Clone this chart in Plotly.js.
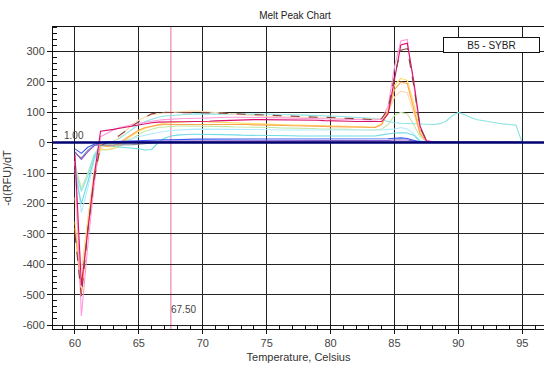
<!DOCTYPE html>
<html>
<head>
<meta charset="utf-8">
<script src="https://cdn.plot.ly/plotly-3.0.1.min.js"></script>
<style>
html,body{margin:0;padding:0;background:#fff;}
#chart{width:544px;height:367px;}
</style>
</head>
<body>
<div id="chart"></div>
<script>
// Temperatures (Celsius)
const temps = [60,60.5,61,61.5,62,62.5,63,63.5,64,64.5,
  65,65.5,66,66.5,67,67.5,68,68.5,69,69.5,
  70,70.5,71,71.5,72,72.5,73,73.5,74,74.5,
  75,75.5,76,76.5,77,77.5,78,78.5,79,79.5,
  80,80.5,81,81.5,82,82.5,83,83.5,84,84.5,
  85,85.5,86,86.5,87,87.5,88,88.5,89,89.5,
  90,90.5,91,91.5,92,92.5,93,93.5,94,94.5,95];

// -d(RFU)/dT values per well trace
const pinkVals = [-60,-570,-340,-140,20,32,42,50,56,60,
  64,68,72,74,76,78,79,80,80,81,
  82,82,83,83,84,84,84,84,84,83,
  83,83,82,82,81,81,80,80,79,79,
  78,78,77,77,76,76,75,75,78,120,
  250,335,340,200,45,8,3,2,2,2,
  2,2,2,1,1,1,1,1,1,1,1];
const crimsonVals = [-40,-470,-290,-110,38,40,44,48,52,56,
  60,63,66,68,69,69,69,69,69,70,
  70,71,72,73,74,75,75,76,76,76,
  76,76,76,76,76,75,75,74,74,73,
  73,72,72,71,70,70,69,69,70,95,
  215,322,328,205,55,6,3,2,2,1,
  1,1,1,1,1,1,1,1,1,1,1];
const darkDashVals = [-300,-505,-290,-120,-10,0,10,25,40,55,
  70,85,95,99,100,100,100,100,100,100,
  99,99,98,97,96,95,94,93,92,91,
  90,89,88,87,86,86,85,85,84,84,
  83,82,81,80,79,78,77,76,80,110,
  220,305,310,190,50,8,4,3,2,2,
  2,2,2,2,1,1,1,1,1,1,1];
const orangeVals = [-280,-505,-285,-120,-5,-12,-10,0,15,30,
  42,50,55,58,60,60,61,61,62,62,
  62,62,62,61,61,60,60,60,59,59,
  58,58,57,57,56,56,55,55,54,54,
  53,53,52,52,51,51,50,50,60,100,
  175,200,195,110,30,5,2,1,1,1,
  1,1,1,1,1,1,1,1,1,1,1];
const yellowVals = [-260,-470,-270,-110,-20,-22,-18,-5,10,25,
  38,48,55,60,64,66,68,70,70,70,
  70,69,68,67,66,65,64,63,62,62,
  61,60,60,59,58,58,57,57,56,56,
  55,55,54,54,53,53,52,52,62,110,
  190,212,205,130,40,6,3,2,1,1,
  1,1,1,1,1,1,1,1,1,1,1];
const peachVals = [-180,-420,-250,-90,-15,-10,0,20,40,60,
  75,85,92,96,98,100,102,103,104,104,
  103,102,100,98,96,94,92,90,89,88,
  87,86,86,85,84,84,83,83,82,82,
  81,80,80,79,78,78,77,77,80,100,
  150,170,165,100,30,5,2,1,1,1,
  1,1,1,1,1,1,1,1,1,1,1];
const greenVals = [-70,-150,-100,-40,-24,-24,-20,-12,0,15,
  28,38,45,50,52,54,55,55,55,55,
  55,54,54,53,53,52,52,51,51,50,
  50,50,49,49,48,48,47,47,46,46,
  45,45,44,44,43,43,42,42,45,60,
  90,100,95,60,20,4,2,1,1,1,
  1,1,1,1,1,1,1,1,1,1,1];
const cyanTopVals = [-90,-160,-110,-40,-5,-5,5,15,30,45,
  60,70,78,84,88,90,92,93,94,95,
  95,96,96,96,96,96,96,95,95,95,
  94,94,93,93,92,92,91,90,90,89,
  88,87,86,85,84,83,82,80,75,70,
  66,64,63,62,62,62,60,62,70,88,
  100,92,82,76,72,68,65,62,60,58,0];
const cyanLowVals = [-100,-200,-130,-50,-10,-10,-12,-14,-15,-18,
  -20,-24,-22,0,15,22,25,27,28,28,
  28,28,27,27,26,26,25,25,25,24,
  24,24,23,23,23,22,22,22,22,21,
  21,21,21,20,20,20,20,22,26,30,
  32,33,32,25,5,1,1,1,1,1,
  1,1,1,1,1,1,1,1,1,1,1];
const skyVals = [-60,-230,-150,-60,-8,-6,-4,0,8,15,
  20,25,30,35,38,40,42,43,44,45,
  45,45,45,45,44,44,44,44,43,43,
  43,43,42,42,42,42,41,41,41,41,
  40,40,40,40,40,40,40,40,42,44,
  45,50,45,30,8,2,1,1,1,1,
  1,1,1,1,1,1,1,1,1,1,1];
const blueVals = [-20,-35,-15,-5,2,3,4,5,6,7,
  8,8,9,9,10,10,11,11,11,12,
  12,12,12,12,12,12,12,12,12,12,
  12,12,12,12,12,12,12,12,11,11,
  11,11,11,11,11,11,11,11,12,13,
  15,16,14,8,2,1,1,1,1,1,
  1,1,1,1,1,1,1,1,1,1,1];
const purpleVals = [-30,-55,-30,-10,0,2,3,3,4,4,
  5,5,5,6,6,6,6,6,7,7,
  7,7,7,7,7,7,7,7,7,7,
  7,7,7,7,7,7,7,7,7,7,
  7,7,7,7,7,7,7,7,7,8,
  9,10,9,6,3,2,2,2,2,2,
  2,2,2,2,2,2,2,2,2,2,2];
const grayVals = [-35,-50,-25,-8,-8,-8,-8,-8,-7,-6,
  -5,-3,0,2,3,3,3,3,3,3,
  3,3,3,3,3,3,3,3,3,3,
  3,3,3,3,3,3,3,3,3,3,
  3,3,3,3,3,3,3,3,3,3,
  3,3,3,3,2,2,2,2,2,2,
  2,2,2,2,2,2,2,2,2,2,2];

const threshold = 1.00;
const cursorTemp = 67.50;
const wellLabel = "B5 - SYBR";

const seriesList = [
  {y: greenVals, color: '#c2e8a8', dash: 'solid'},
  {y: skyVals, color: '#b4ecff', dash: 'solid'},
  {y: cyanLowVals, color: '#6fdbe4', dash: 'solid'},
  {y: cyanTopVals, color: '#8ae4e4', dash: 'solid'},
  {y: peachVals, color: '#ffd9b0', dash: 'solid'},
  {y: yellowVals, color: '#ffdc66', dash: 'solid'},
  {y: orangeVals, color: '#ffa64d', dash: 'solid'},
  {y: pinkVals, color: '#ff99dd', dash: 'solid'},
  {y: crimsonVals, color: '#d8106a', dash: 'solid'},
  {y: darkDashVals, color: '#8a3f3f', dash: 'dash'},
  {y: grayVals, color: '#8a8a9a', dash: 'solid'},
  {y: purpleVals, color: '#8a5acc', dash: 'solid'},
  {y: blueVals, color: '#3a5af0', dash: 'solid'}
];

const traces = seriesList.map(s => ({
  x: temps, y: s.y, type: 'scatter', mode: 'lines',
  line: {color: s.color, width: 1.1, dash: s.dash},
  hoverinfo: 'skip', showlegend: false
}));

const fontFam = 'Arial, "Liberation Sans", sans-serif';

const layout = {
  width: 544, height: 367,
  margin: {l: 53, r: 0, t: 27, b: 38, pad: 0},
  paper_bgcolor: '#ffffff', plot_bgcolor: '#ffffff',
  showlegend: false,
  font: {family: fontFam, size: 11, color: '#333'},
  title: {text: 'Melt Peak Chart', font: {family: fontFam, size: 10, color: '#222'},
          x: 295/544, xanchor: 'center', y: 1 - 15/367, yanchor: 'middle'},
  xaxis: {
    range: [58.28, 96.7], tickvals: [60,65,70,75,80,85,90,95],
    showgrid: true, gridcolor: '#222', gridwidth: 1,
    zeroline: false, showline: true, linecolor: '#111', linewidth: 1, mirror: true,
    ticks: 'outside', ticklen: 4, tickcolor: '#111',
    minor: {dtick: 1, ticks: 'inside', ticklen: 4, tickcolor: '#111', showgrid: false},
    tickfont: {family: fontFam, size: 11, color: '#444'},
    title: {text: 'Temperature, Celsius', font: {family: fontFam, size: 11, color: '#333'}, standoff: 5}
  },
  yaxis: {
    range: [-613, 381], tickvals: [-600,-500,-400,-300,-200,-100,0,100,200,300],
    ticktext: ['-600','-500','-400','-300','-200','-100','0','100','200','300'],
    showgrid: true, gridcolor: '#222', gridwidth: 1,
    zeroline: false, showline: true, linecolor: '#111', linewidth: 1,
    ticks: 'outside', ticklen: 5, tickcolor: '#111',
    minor: {dtick: 20, ticks: 'inside', ticklen: 4, tickcolor: '#111', showgrid: false},
    tickfont: {family: fontFam, size: 11, color: '#444'},
    title: {text: '-d(RFU)/dT', font: {family: fontFam, size: 11, color: '#333'}, standoff: 8}
  },
  shapes: [
    {type: 'line', xref: 'x', yref: 'paper', x0: cursorTemp, x1: cursorTemp, y0: 0, y1: 1,
     line: {color: '#f4a0bc', width: 1.5}, layer: 'below'},
    {type: 'line', xref: 'paper', yref: 'y', x0: 0, x1: 1, y0: threshold, y1: threshold,
     line: {color: '#000070', width: 2.5}}
  ],
  annotations: [
    {text: threshold.toFixed(2), x: 59.92, y: 25, xref: 'x', yref: 'y', showarrow: false,
     font: {family: fontFam, size: 10, color: '#444'}},
    {text: cursorTemp.toFixed(2), x: 68.49, y: -548, xref: 'x', yref: 'y', showarrow: false,
     font: {family: fontFam, size: 10, color: '#444'}},
    {text: wellLabel, xref: 'paper', yref: 'paper', x: (491.5-53)/491, y: (329-44.5)/302,
     xanchor: 'center', yanchor: 'middle',
     showarrow: false, bordercolor: '#111', borderwidth: 1, bgcolor: '#fff',
     width: 93, height: 12, borderpad: 1,
     font: {family: fontFam, size: 10, color: '#222'}}
  ]
};

Plotly.newPlot('chart', traces, layout, {displayModeBar: false, staticPlot: true});
</script>
</body>
</html>
